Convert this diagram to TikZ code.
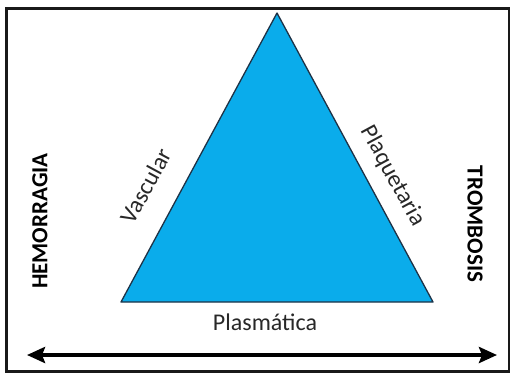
\documentclass[tikz,border=0pt]{standalone}
\usepackage{fontspec}
\setmainfont{Carlito}
\usetikzlibrary{arrows.meta}
\definecolor{triblue}{RGB}{10,172,235}
\definecolor{triedge}{RGB}{30,50,70}
\definecolor{labelgray}{RGB}{40,40,40}

\begin{document}
\begin{tikzpicture}[x=1pt,y=-1pt,>={Stealth[length=18pt,width=16pt,inset=3pt]},
  font=\fontsize{24}{28}\selectfont]
  \useasboundingbox (0,0) rectangle (510,373);
  % frame
  \draw[black!90,line width=3pt] (6,8.5) rectangle (509,371.5);

  % triangle corners
  \coordinate (apex) at (277,13);
  \coordinate (bl) at (121,302);
  \coordinate (br) at (433,302);
  \filldraw[fill=triblue,draw=triedge,line width=1.3pt,line join=round]
    (apex) -- (bl) -- (br) -- cycle;

  % side labels
  \node[labelgray,rotate=61.6] (vasc) at (146,186) {Vascular};
  \node[labelgray,rotate=-61.6] (plaq) at (393,176) {Plaquetaria};
  \node[labelgray] (plas) at (265,322) {Plasmática};

  % ends of the scale
  \node[font=\fontsize{23}{27}\selectfont\bfseries,rotate=90] (hem) at (40,221) {HEMORRAGIA};
  \node[font=\fontsize{23}{27}\selectfont\bfseries,rotate=-90] (trom) at (475,224) {TROMBOSIS};

  % double arrow
  \coordinate (left) at (27,355);
  \coordinate (right) at (497,355);
  \draw[<->,line width=4pt] (left) -- (right);
\end{tikzpicture}
\end{document}
